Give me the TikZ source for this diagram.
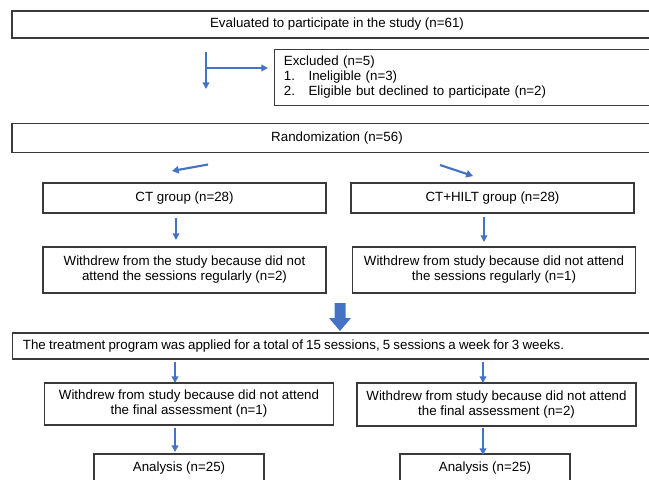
\documentclass[tikz,border=0pt]{standalone}
\usepackage{fontspec}
\setmainfont{Liberation Sans}
\usetikzlibrary{arrows.meta}
\definecolor{flowblue}{HTML}{4472C4}
\definecolor{boxline}{HTML}{3A3A3A}
\begin{document}
\begin{tikzpicture}[x=0.75pt,y=-0.75pt,
    box/.style={draw=boxline, line width=0.8pt, rectangle, align=center, inner sep=0pt, font=\fontsize{10pt}{11.25pt}\selectfont},
    link/.style={-{Triangle[length=5pt,width=5pt]}, flowblue, line width=1.1pt},
    slant/.style={-{Triangle[length=5pt,width=5.5pt]}, flowblue, line width=1.6pt}]
    \useasboundingbox (0,0) rectangle (649,479);
            \node [box, minimum width=487.5pt, minimum height=20.25pt] (eval) at (337,24.5) {Evaluated to participate in the study (n=61)};
            \node [box, anchor=north west, minimum width=300pt, minimum height=42pt, text width=290pt, inner xsep=6.75pt, align=left] (excl) at (274.4,49) {Excluded (n=5)\\\makebox[18.5pt][l]{1.}Ineligible (n=3)\\\makebox[18.5pt][l]{2.}Eligible but declined to participate (n=2)};
            \node [box, minimum width=487.5pt, minimum height=21.75pt] (rand) at (337,138) {Randomization (n=56)};
            \node [box, minimum width=212.25pt, minimum height=22.5pt] (ct) at (184.5,198) {CT group (n=28)};
            \node [box, minimum width=212.25pt, minimum height=22.5pt] (hilt) at (492.5,198) {CT+HILT group (n=28)};
            \node [box, minimum width=212.25pt, minimum height=34.5pt] (wct) at (184.5,270) {Withdrew from the study because did not\\attend the sessions regularly (n=2)};
            \node [box, minimum width=212.25pt, minimum height=34.5pt] (whilt) at (494,270) {Withdrew from study because did not attend\\the sessions regularly (n=1)};
            \node [box, anchor=west, minimum width=500pt, minimum height=19.5pt, text width=485pt, inner xsep=6.75pt, align=left] (treat) at (12.4,346) {\spaceskip=0.85\fontdimen2\font The treatment program was applied for a total of 15 sessions, 5 sessions a week for 3 weeks.};
            \node [box, minimum width=216.75pt, minimum height=31.5pt] (fct) at (189,404) {Withdrew from study because did not attend\\the final assessment (n=1)};
            \node [box, minimum width=209.25pt, minimum height=32.25pt] (fhilt) at (496.5,404.5) {Withdrew from study because did not attend\\the final assessment (n=2)};
            \node [box, minimum width=127.5pt, minimum height=21pt] (act) at (179,468) {Analysis (n=25)};
            \node [box, minimum width=127.5pt, minimum height=21pt] (ahilt) at (485,468) {Analysis (n=25)};
            \coordinate (s1) at (206,52);
            \coordinate (e1) at (206,89);
            \coordinate (b1) at (206,68);
            \coordinate (e2) at (268,68);
            \coordinate (s3) at (208,164.5);
            \coordinate (e3) at (172,171);
            \coordinate (s4) at (440,165);
            \coordinate (e4) at (473,176);
            \coordinate (s5) at (176,218);
            \coordinate (e5) at (176,240);
            \coordinate (s6) at (484,217);
            \coordinate (e6) at (484,242);
            \coordinate (s7) at (175,362);
            \coordinate (e7) at (175,383);
            \coordinate (s8) at (483,362);
            \coordinate (e8) at (483,383);
            \coordinate (s9) at (175,428);
            \coordinate (e9) at (175,452);
            \coordinate (s10) at (483,428);
            \coordinate (e10) at (483,455);
            \draw [link] (s1)--(e1);
            \draw [link] (b1)--(e2);
            \draw [slant] (s3)--(e3);
            \draw [slant] (s4)--(e4);
            \draw [link] (s5)--(e5);
            \draw [link] (s6)--(e6);
            \draw [link] (s7)--(e7);
            \draw [link] (s8)--(e8);
            \draw [link] (s9)--(e9);
            \draw [link] (s10)--(e10);
            \fill [flowblue] (334.5,303) -- (345.5,303) -- (345.5,318) -- (351,318) -- (340,331) -- (329,318) -- (334.5,318) -- cycle;
        \end{tikzpicture}
\end{document}
